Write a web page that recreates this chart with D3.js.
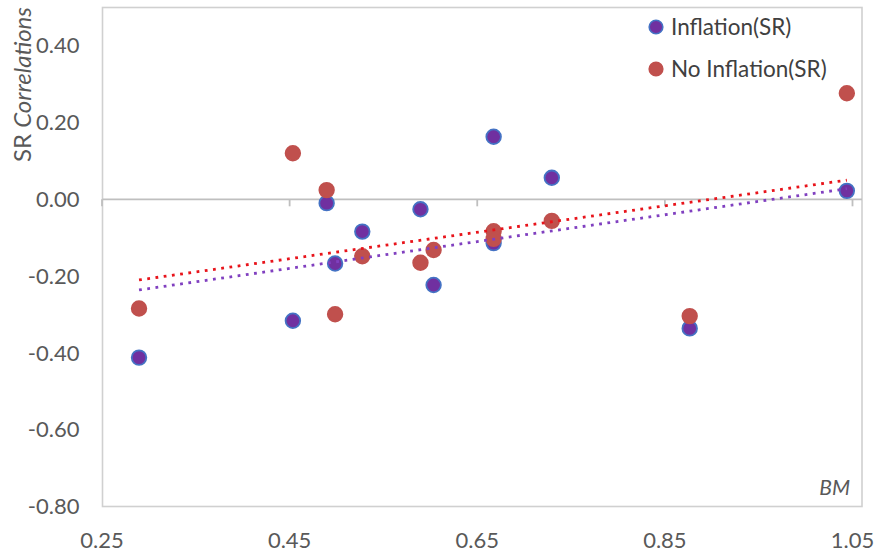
<!DOCTYPE html>
<html>
<head>
<meta charset="utf-8">
<script src="https://cdn.jsdelivr.net/npm/d3@7"></script>
<style>
  html, body { margin: 0; padding: 0; background: #ffffff; }
  svg { display: block; font-family: Lato, "Open Sans", sans-serif; }
</style>
</head>
<body>
<svg id="chart" width="876" height="553"></svg>
<script>
// Book-to-market (BM) values shared by both series
const bm = [0.290, 0.454, 0.490, 0.499, 0.528, 0.590, 0.604, 0.668, 0.668, 0.730, 0.877, 1.0445];
// Short-run correlations in inflation periods
const inflationSR = [-0.412, -0.316, -0.010, -0.167, -0.084, -0.026, -0.223, 0.163, -0.114, 0.056, -0.336, 0.022];
// Short-run correlations in non-inflation periods
const noInflationSR = [-0.284, 0.120, 0.024, -0.299, -0.148, -0.165, -0.132, -0.083, -0.103, -0.056, -0.304, 0.276];

const xTicks = [0.25, 0.45, 0.65, 0.85, 1.05];
const yTicks = [-0.8, -0.6, -0.4, -0.2, 0, 0.2, 0.4];
const seriesNames = ["Inflation(SR)", "No Inflation(SR)"];

const svg = d3.select("#chart");
const frame = { left: 102.5, right: 862, top: 7.5, bottom: 506.5 };

const x = d3.scaleLinear().domain([0.25, 1.05]).range([101.5, 852]);
const y = d3.scaleLinear().domain([-0.8, 0.5]).range([506.7, 7.2]);

const textGrey = "#595959";
const series = [
  { name: seriesNames[0], values: inflationSR, fill: "#7030A0", stroke: "#4472C4", trend: "#8040C0" },
  { name: seriesNames[1], values: noInflationSR, fill: "#C0504D", stroke: "#C0504D", trend: "#E8141B" }
];

// Plot frame
svg.append("rect")
  .attr("x", frame.left).attr("y", frame.top)
  .attr("width", frame.right - frame.left).attr("height", frame.bottom - frame.top)
  .attr("fill", "none").attr("stroke", "#D0D0D0").attr("stroke-width", 1.6);

// Horizontal axis line at zero with downward ticks
svg.append("line")
  .attr("x1", frame.left).attr("x2", frame.right)
  .attr("y1", y(0)).attr("y2", y(0))
  .attr("stroke", "#BFBFBF").attr("stroke-width", 1.8);

const xTickAxis = svg.append("g")
  .attr("transform", `translate(0,${y(0)})`)
  .call(d3.axisBottom(x).tickValues(xTicks).tickSizeInner(7).tickSizeOuter(0).tickFormat(""));
xTickAxis.select(".domain").remove();
xTickAxis.selectAll(".tick line").attr("stroke", "#BFBFBF").attr("stroke-width", 1.8);

// Tick labels along the bottom
const xLabelAxis = svg.append("g")
  .attr("transform", "translate(0,532)")
  .call(d3.axisBottom(x).tickValues(xTicks).tickSize(0).tickPadding(0).tickFormat(d => d.toFixed(2)));
xLabelAxis.select(".domain").remove();
xLabelAxis.selectAll("text")
  .attr("fill", textGrey).style("font-size", "22px").style("font-family", "Lato, sans-serif");

const yLabelAxis = svg.append("g")
  .attr("transform", `translate(${frame.left},0)`)
  .call(d3.axisLeft(y).tickValues(yTicks).tickSize(0).tickPadding(23).tickFormat(d => d.toFixed(2)));
yLabelAxis.select(".domain").remove();
yLabelAxis.selectAll("text")
  .attr("fill", textGrey).style("font-size", "22px").style("font-family", "Lato, sans-serif");

// Vertical axis title
const yTitle = svg.append("text")
  .attr("transform", "translate(31,162) rotate(-90)")
  .attr("text-anchor", "start")
  .attr("fill", textGrey)
  .style("font-size", "24px");
yTitle.append("tspan").text("SR ");
yTitle.append("tspan").style("font-style", "italic").text("Correlations");

// Horizontal axis title inside the plot
svg.append("text")
  .attr("x", 850).attr("y", 495)
  .attr("text-anchor", "end")
  .attr("fill", textGrey)
  .style("font-size", "21px").style("font-style", "italic")
  .text("BM");

// Scatter points
series.forEach(s => {
  svg.append("g").selectAll("circle")
    .data(s.values.map((v, i) => [bm[i], v]))
    .join("circle")
    .attr("cx", d => x(d[0]))
    .attr("cy", d => y(d[1]))
    .attr("r", 7.3)
    .attr("fill", s.fill)
    .attr("stroke", s.stroke)
    .attr("stroke-width", 1.8);
});

// Least-squares trendlines over the BM range
function fit(xs, ys) {
  const mx = d3.mean(xs), my = d3.mean(ys);
  const sxy = d3.sum(xs, (v, i) => (v - mx) * (ys[i] - my));
  const sxx = d3.sum(xs, v => (v - mx) * (v - mx));
  const slope = sxy / sxx;
  return xv => my + slope * (xv - mx);
}
const line = d3.line().x(d => x(d[0])).y(d => y(d[1]));
const [xmin, xmax] = d3.extent(bm);
series.forEach(s => {
  const f = fit(bm, s.values);
  svg.append("path")
    .attr("d", line([[xmin, f(xmin)], [xmax, f(xmax)]]))
    .attr("fill", "none")
    .attr("stroke", s.trend)
    .attr("stroke-width", 2.8)
    .attr("stroke-dasharray", "2.8 5.5");
});

// Legend
const legend = svg.append("g");
series.forEach((s, i) => {
  const ly = 27 + i * 42;
  legend.append("circle")
    .attr("cx", 656).attr("cy", ly).attr("r", 6.8)
    .attr("fill", s.fill).attr("stroke", s.stroke).attr("stroke-width", 1.6);
  legend.append("text")
    .attr("x", 671).attr("y", ly).attr("dy", "0.36em")
    .attr("fill", "#404040")
    .style("font-size", "22.5px")
    .text(s.name);
});
</script>
</body>
</html>
